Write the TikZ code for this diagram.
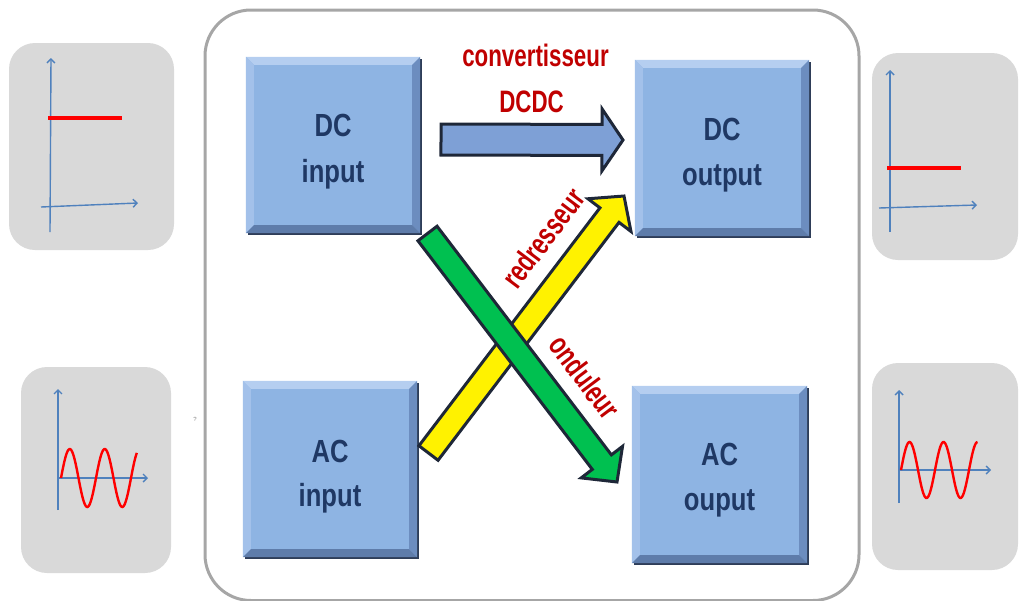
\documentclass[tikz,border=0pt]{standalone}
\usepackage{fontspec}
\setmainfont{Liberation Sans}
\newfontfamily\narrowsans{Liberation Sans}[FakeStretch=0.8]
\newfontfamily\condsans{Liberation Sans}[FakeStretch=0.72]
\usetikzlibrary{calc,arrows.meta}

\definecolor{framegray}{HTML}{A6A6A6}
\definecolor{panelgray}{HTML}{D9D9D9}
\definecolor{axisblue}{HTML}{4F81BD}
\definecolor{boxface}{HTML}{8EB4E3}
\definecolor{bevtop}{HTML}{B5CEF0}
\definecolor{bevleft}{HTML}{A3C1EA}
\definecolor{bevright}{HTML}{6C8DBF}
\definecolor{bevbottom}{HTML}{5E7CAA}
\definecolor{boxshadow}{HTML}{2E3D58}
\definecolor{navytext}{HTML}{1F3864}
\definecolor{labelred}{HTML}{C00000}
\definecolor{arrowblue}{HTML}{7EA0D6}
\definecolor{arrowedge}{HTML}{1E2738}
\definecolor{arrowgreen}{HTML}{00C050}
\definecolor{signalred}{HTML}{FF0000}

% bevelled square panel drawn around a named (invisible) node
\newcommand\bevelpanel[1]{%
  \fill[boxshadow] ($(#1.north west)+(2,2)$) rectangle ($(#1.south east)+(2,2)$);
  \fill[boxface] (#1.north west) rectangle (#1.south east);
  \fill[bevtop] (#1.north west) -- (#1.north east) -- ($(#1.north east)+(-8,8)$) -- ($(#1.north west)+(8,8)$) -- cycle;
  \fill[bevleft] (#1.north west) -- ($(#1.north west)+(8,8)$) -- ($(#1.south west)+(8,-8)$) -- (#1.south west) -- cycle;
  \fill[bevright] (#1.north east) -- (#1.south east) -- ($(#1.south east)+(-8,-8)$) -- ($(#1.north east)+(-8,8)$) -- cycle;
  \fill[bevbottom] (#1.south west) -- (#1.south east) -- ($(#1.south east)+(-8,-8)$) -- ($(#1.south west)+(8,-8)$) -- cycle;
}

% block arrow: #1 tail, #2 tip, #3 half shaft width, #4 half head width, #5 head length, #6 style
\newcommand\blockarrow[6]{%
  \coordinate (#1h) at ($(#2)!#5!(#1)$);
  \filldraw[#6] ($(#1)!#3!90:(#2)$) -- ($(#1h)!#3!90:(#2)$) -- ($(#1h)!#4!90:(#2)$) -- (#2)
    -- ($(#1h)!#4!-90:(#2)$) -- ($(#1h)!#3!-90:(#2)$) -- ($(#1)!#3!-90:(#2)$) -- cycle;
}

\begin{document}
\begin{tikzpicture}[x=1pt,y=-1pt,
  sidepanel/.style={fill=panelgray, rounded corners=26},
  axis/.style={draw=axisblue, line width=1.4, -{Straight Barb[length=4pt,width=8pt]}},
  level/.style={draw=signalred, line width=4},
  wave/.style={draw=signalred, line width=2.4},
  blockbox/.style={minimum width=174, minimum height=176, inner sep=0},
  boxlbl/.style={anchor=base, text=navytext, font=\narrowsans\bfseries\fontsize{32}{34}\selectfont},
  redlbl/.style={text=labelred, font=\condsans\bfseries\fontsize{31}{34}\selectfont},
  blockedge/.style={draw=arrowedge, line width=3, line join=miter}]
\useasboundingbox (0,0) rectangle (1019,600);

% outer frame
\draw[framegray, line width=3, rounded corners=46] (205,10) rectangle (859,600.5);

% side panels with signal sketches
\fill[sidepanel] (9,43) rectangle (174,250);
\draw[axis] (50,232) -- (51,58);
\draw[axis] (41,207) -- (138,203);
\draw[level] (48,118) -- (122,118);

\fill[sidepanel] (21,367) rectangle (171,573);
\draw[axis] (58,510) -- (58,389);
\draw[axis] (58,478) -- (148,478);
\draw[wave] plot[domain=0:780, samples=90, smooth] ({61+\x/360*35},{478-29*sin(\x)});

\fill[sidepanel] (872,53) rectangle (1018,260);
\draw[axis] (890,232) -- (890,70);
\draw[axis] (879,208) -- (977,205);
\draw[level] (887,168) -- (961,168);

\fill[sidepanel] (872,363) rectangle (1018,570);
\draw[axis] (899,503) -- (899,390);
\draw[axis] (899,470) -- (991,470);
\draw[wave] plot[domain=0:810, samples=90, smooth] ({901+\x/360*34},{470-28*sin(\x)});

\node[font=\fontsize{6}{6}\selectfont, text=gray] (mark) at (195,419) {?};

% the four converter ports
\node[blockbox] (dcin)  at (333,145) {};
\node[blockbox] (dcout) at (722,148) {};
\node[blockbox] (acin)  at (330,469) {};
\node[blockbox, minimum width=175, minimum height=177] (acout) at (719.5,474.5) {};
\bevelpanel{dcin}
\bevelpanel{dcout}
\bevelpanel{acin}
\bevelpanel{acout}

\node[boxlbl] (dcinA)  at ($(dcin.center)+(0,-9)$) {DC};
\node[boxlbl] (dcinB)  at ($(dcin.center)+(0,37)$) {input};
\node[boxlbl] (dcoutA) at ($(dcout.center)+(0,-8)$) {DC};
\node[boxlbl] (dcoutB) at ($(dcout.center)+(0,37)$) {output};
\node[boxlbl] (acinA)  at ($(acin.center)+(0,-7)$) {AC};
\node[boxlbl] (acinB)  at ($(acin.center)+(0,37)$) {input};
\node[boxlbl] (acoutA) at ($(acout.center)+(0,-9)$) {AC};
\node[boxlbl] (acoutB) at ($(acout.center)+(0,36)$) {ouput};

% conversion arrows
\coordinate (btail) at (441,139.5);
\coordinate (btip)  at (623,140);
\blockarrow{btail}{btip}{15.5pt}{31pt}{21pt}{fill=arrowblue, blockedge}

\coordinate (ytail) at (428.5,453);
\coordinate (ytip)  at (624,196);
\blockarrow{ytail}{ytip}{12pt}{27pt}{24pt}{fill=yellow, blockedge}

\coordinate (gtail) at (427.5,233.5);
\coordinate (gtip)  at (617,482);
\blockarrow{gtail}{gtip}{12pt}{26pt}{25pt}{fill=arrowgreen, blockedge}

% arrow labels
\node[redlbl, anchor=base] (lconv) at (535.5,66) {convertisseur};
\node[redlbl, anchor=base] (ldcdc) at (531.5,112) {DCDC};
\node[redlbl, rotate=53] (lred) at (543,238) {redresseur};
\node[redlbl, rotate=-53] (lond) at (585,377) {onduleur};
\end{tikzpicture}
\end{document}
